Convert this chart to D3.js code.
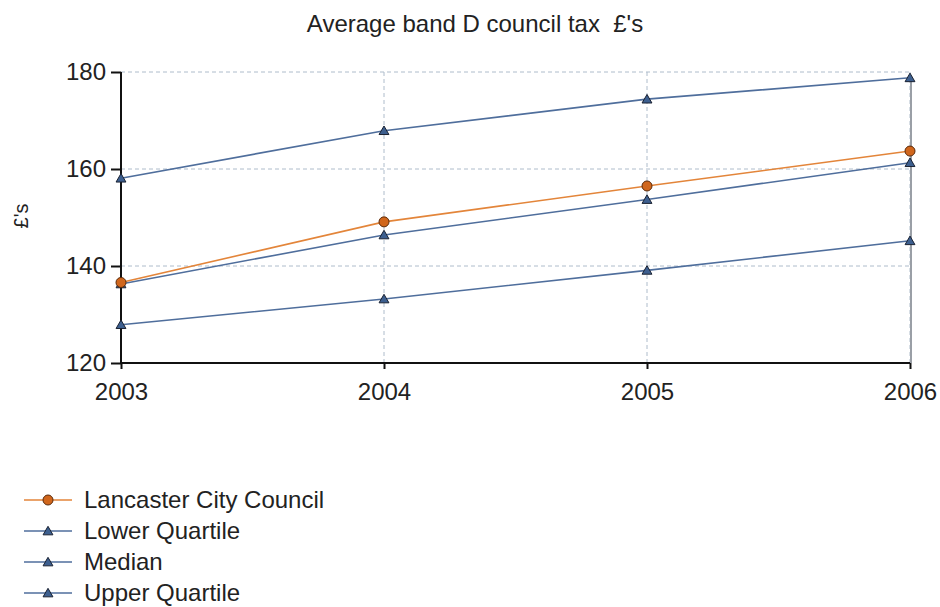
<!DOCTYPE html>
<html><head><meta charset="utf-8">
<script src="https://cdn.jsdelivr.net/npm/d3@7"></script>
<style>body{margin:0;background:#fff}svg{display:block}text{font-family:"Liberation Sans",Arial,sans-serif;fill:#222}</style>
</head><body><svg id="c" width="940" height="607"></svg>
<script>
const years = [2003, 2004, 2005, 2006];
const lancaster = [136.6, 149.1, 156.5, 163.7];
const lowerQuartile = [127.9, 133.2, 139.1, 145.2];
const median = [136.3, 146.4, 153.7, 161.3];
const upperQuartile = [158.1, 167.9, 174.4, 178.8];
const yTicks = [120, 140, 160, 180];
const seriesNames = ["Lancaster City Council", "Lower Quartile", "Median", "Upper Quartile"];

const series = [
  {name: seriesNames[0], values: lancaster, kind: "circle"},
  {name: seriesNames[1], values: lowerQuartile, kind: "tri"},
  {name: seriesNames[2], values: median, kind: "tri"},
  {name: seriesNames[3], values: upperQuartile, kind: "tri"}
];
const style = {
  circle: {line: "#e3853a", fill: "#d0661c", stroke: "#5a2a0a"},
  tri: {line: "#4f6e9c", fill: "#3d5f8f", stroke: "#1a2232"}
};

const svg = d3.select("#c");
const L = 121, R = 910, T = 72, B = 363;
const x = d3.scaleLinear().domain([2003, 2006]).range([L, R]);
const y = d3.scaleLinear().domain([120, 180]).range([B, T]);

svg.append("text").attr("x", 475).attr("y", 32).attr("text-anchor", "middle")
  .style("font-size", "24px").text("Average band D council tax\u00a0\u00a0£'s");

// grid
const grid = svg.append("g").attr("stroke", "#aebccb").attr("stroke-dasharray", "4,3").attr("stroke-width", 1);
yTicks.filter(v => v > 120).forEach(v => grid.append("line").attr("x1", L).attr("x2", R).attr("y1", y(v)).attr("y2", y(v)));
years.filter(v => v > 2003).forEach(v => grid.append("line").attr("x1", x(v)).attr("x2", x(v)).attr("y1", T).attr("y2", B));
svg.append("line").attr("x1", R + 1).attr("x2", R + 1).attr("y1", T + 4).attr("y2", B).attr("stroke", "#9a9fa6").attr("stroke-width", 2);

// axes
const ya = svg.append("g").attr("transform", `translate(${L},0)`)
  .call(d3.axisLeft(y).tickValues(yTicks).tickSize(10).tickPadding(5).tickFormat(d3.format("d")));
const xa = svg.append("g").attr("transform", `translate(0,${B})`)
  .call(d3.axisBottom(x).tickValues(years).tickSize(6).tickPadding(14).tickFormat(d3.format("d")));
[ya, xa].forEach(a => {
  a.select(".domain").attr("stroke", "#111").attr("stroke-width", 2);
  a.selectAll(".tick line").attr("stroke", "#111").attr("stroke-width", 2);
  a.selectAll("text").style("font-size", "24px").attr("fill", "#222").style("font-family", '"Liberation Sans",Arial,sans-serif');
});
ya.select(".domain").attr("d", `M0,${T}V${B}`);
xa.select(".domain").attr("d", `M${L},0H${R}`);

svg.append("text").attr("transform", "translate(28,216) rotate(-90)").attr("text-anchor", "middle")
  .style("font-size", "20px").text("£'s");

const tri = d3.symbol().type(d3.symbolTriangle).size(42);
function marker(g, kind, cx, cy) {
  const s = style[kind];
  if (kind === "circle") g.append("circle").attr("cx", cx).attr("cy", cy).attr("r", 5).attr("fill", s.fill).attr("stroke", s.stroke).attr("stroke-width", 1);
  else g.append("path").attr("d", tri()).attr("transform", `translate(${cx},${cy + 1})`).attr("fill", s.fill).attr("stroke", s.stroke).attr("stroke-width", 1);
}

const line = d3.line().x((d, i) => x(years[i])).y(d => y(d));
[1, 2, 3, 0].forEach(k => {
  const s = series[k];
  const g = svg.append("g");
  g.append("path").datum(s.values).attr("d", line).attr("fill", "none").attr("stroke", style[s.kind].line).attr("stroke-width", 1.6);
  s.values.forEach((v, i) => marker(g, s.kind, x(years[i]), y(v)));
});

// legend
series.forEach((s, i) => {
  const cy = 500 + i * 31;
  const g = svg.append("g");
  g.append("line").attr("x1", 24).attr("x2", 72).attr("y1", cy).attr("y2", cy).attr("stroke", style[s.kind].line).attr("stroke-width", 1.6);
  marker(g, s.kind, 48, cy);
  g.append("text").attr("x", 84).attr("y", cy + 8).style("font-size", "24px").text(s.name);
});
</script></body></html>
